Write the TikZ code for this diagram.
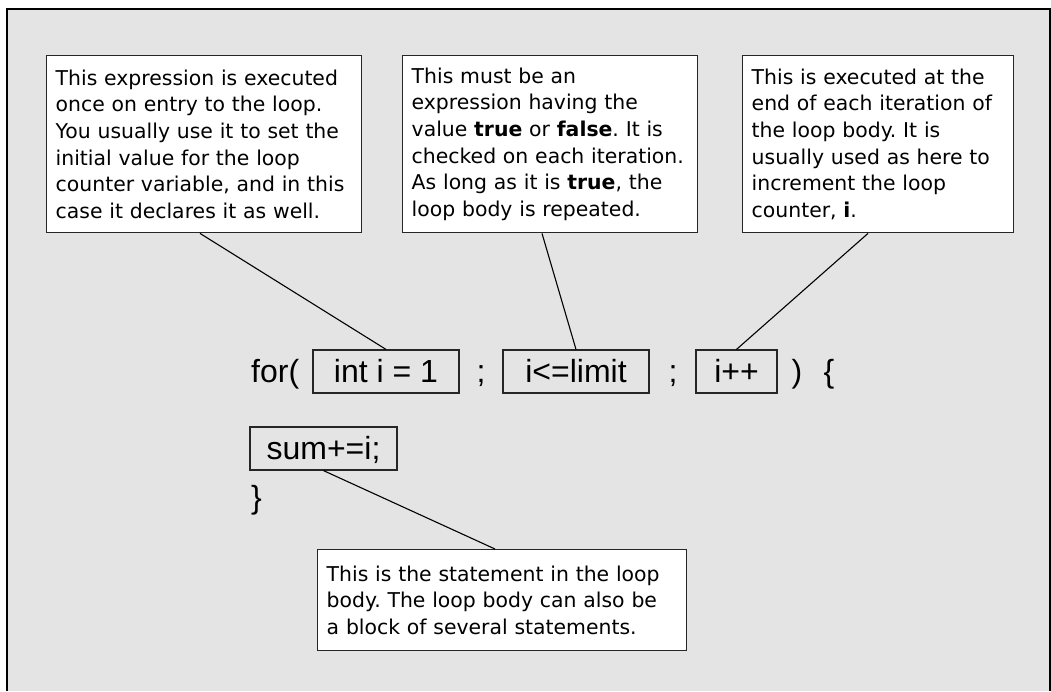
\documentclass[tikz,border=0pt]{standalone}
\usepackage{fontspec}
\setmainfont{DejaVu Sans}
\newfontfamily\codefont{Liberation Sans}
\usetikzlibrary{positioning}
\definecolor{panelgray}{HTML}{E4E4E4}
\frenchspacing

\begin{document}
\begin{tikzpicture}[x=1pt,y=-1pt,
    note/.style={draw=black!85,fill=white,line width=1.4pt,anchor=north west,
      align=left,inner xsep=9pt,inner ysep=0pt,
      font=\fontsize{20.4}{26.7}\selectfont},
    codebox/.style={draw=black!85,line width=1.2pt,minimum height=43pt,
      inner sep=0pt,text height=22pt,text depth=0pt,
      font=\codefont\fontsize{32}{34}\selectfont},
    code/.style={inner sep=0pt,font=\codefont\fontsize{32}{34}\selectfont},
    pointer/.style={line width=1.1pt}]
  \useasboundingbox (0,0) rectangle (1051,691);
  \fill[panelgray] (7,9) rectangle (1050,691);
  \draw[line width=2pt] (7,691) |- (1050,9) -- (1050,691);

  % the three notes above the for statement
  \node[note,text width=297pt,minimum height=177pt] (initnote) at (46,55)
    {This expression is executed\\once on entry to the loop.\\You usually use it to set the\\initial value for the loop\\counter variable, and in this\\case it declares it as well.};
  \node[note,text width=277pt,minimum height=177pt] (condnote) at (402,55)
    {This must be an\\expression having the\\value \textbf{true} or \textbf{false}. It is\\checked on each iteration.\\As long as it is \textbf{true}, the\\loop body is repeated.};
  \node[note,text width=253pt,minimum height=177pt] (incrnote) at (742,55)
    {This is executed at the\\end of each iteration of\\the loop body. It is\\usually used as here to\\increment the loop\\counter, \textbf{i}.};

  % the for statement
  \node[code,anchor=base west] (forkw) at (251,382) {for(};
  \node[codebox,minimum width=146pt] (initexpr) at (386,371.5) {int i = 1};
  \node[code,anchor=base] (semia) at (481,382) {;};
  \node[codebox,minimum width=146pt] (condexpr) at (576,371.5) {i<=limit};
  \node[code,anchor=base] (semib) at (673,382) {;};
  \node[codebox,minimum width=81pt] (increxpr) at (736.5,371.5) {i++};
  \node[code,anchor=base] (rparen) at (797,382) {)};
  \node[code,anchor=base] (lbrace) at (829,382) {\{};
  \node[codebox,minimum width=147pt] (bodystmt) at (323.5,448.5) {sum+=i;};
  \node[code,anchor=base west] (rbrace) at (251,508) {\}};

  % note below the loop body
  \node[note,text width=351pt,minimum height=101pt] (bodynote) at (317,549)
    {This is the statement in the loop\\body. The loop body can also be\\a block of several statements.};

  \draw[pointer] ([xshift=154pt]initnote.south west) -- (initexpr.north);
  \draw[pointer] ([xshift=140pt]condnote.south west) -- (condexpr.north);
  \draw[pointer] ([xshift=126pt]incrnote.south west) -- (increxpr.north);
  \draw[pointer] (bodystmt.south) -- ([xshift=178pt]bodynote.north west);
\end{tikzpicture}
\end{document}
